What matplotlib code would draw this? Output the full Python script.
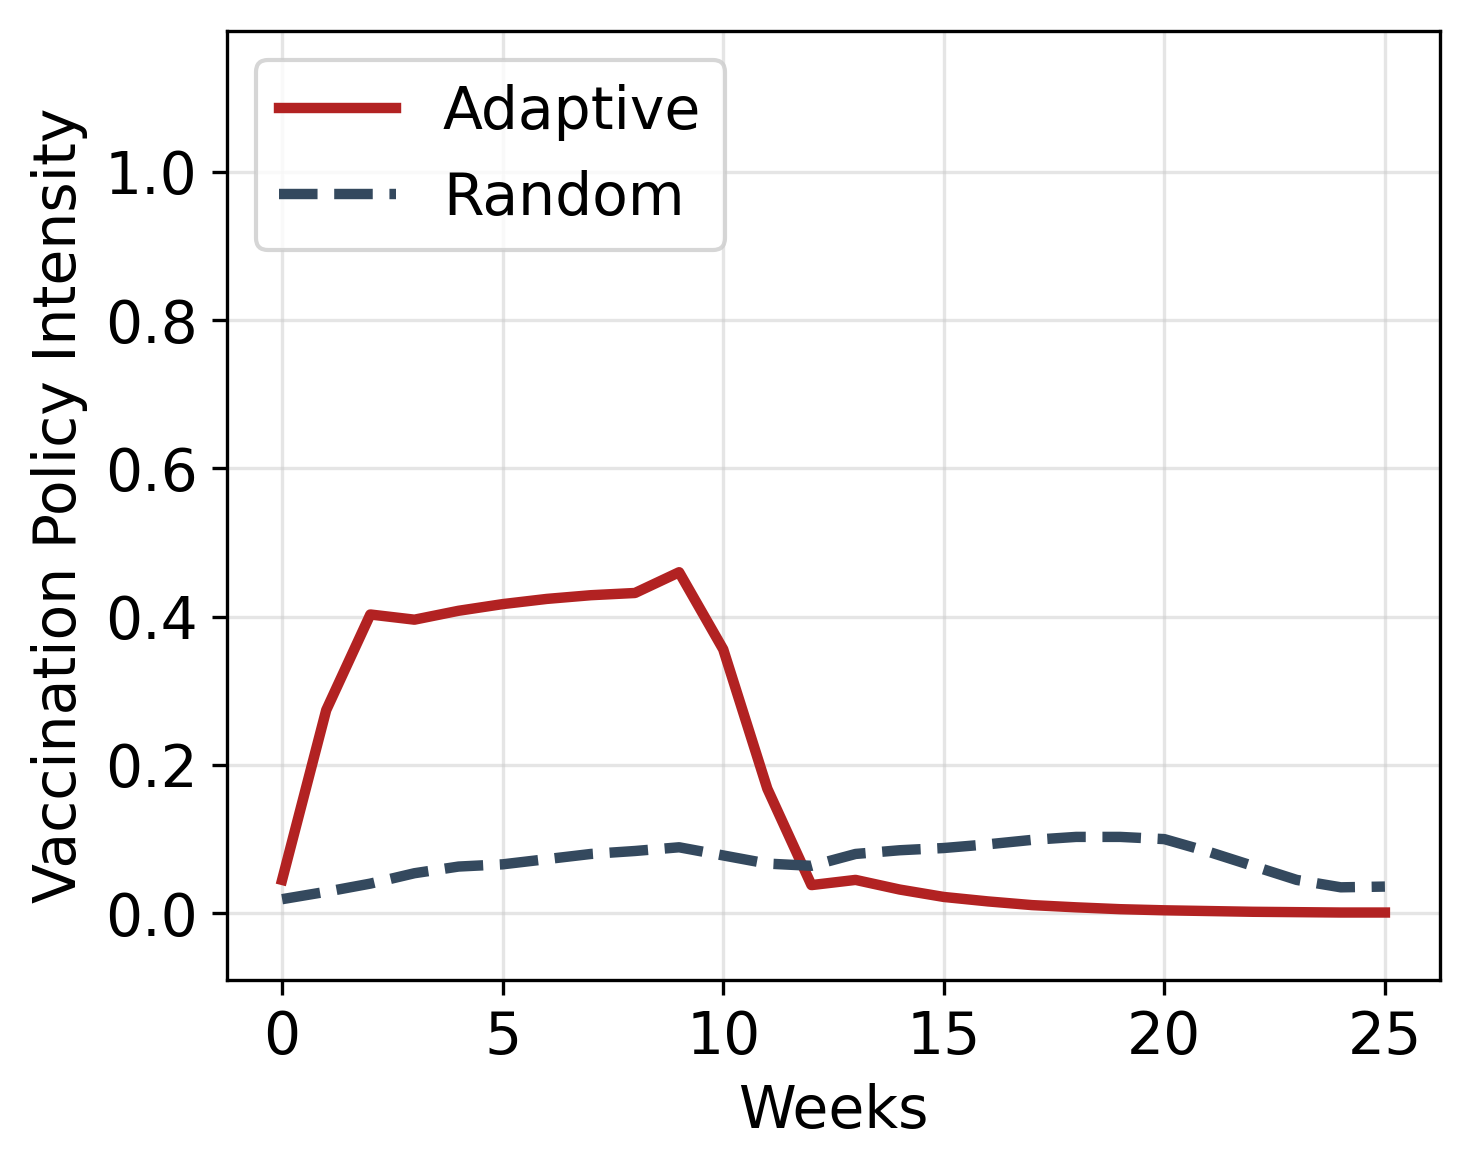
import matplotlib
matplotlib.use("Agg")
import matplotlib.pyplot as plt
import numpy as np

weeks = np.arange(0, 26)

adaptive = [0.045, 0.274, 0.403, 0.396, 0.408, 0.417, 0.424, 0.429, 0.432, 0.460,
            0.356, 0.168, 0.038, 0.045, 0.032, 0.022, 0.016, 0.011, 0.008, 0.0055,
            0.004, 0.003, 0.002, 0.0015, 0.001, 0.001]

random_policy = [0.019, 0.029, 0.040, 0.054, 0.063, 0.066, 0.073, 0.080, 0.084, 0.089,
                 0.078, 0.067, 0.064, 0.080, 0.085, 0.088, 0.093, 0.099, 0.103, 0.103,
                 0.100, 0.083, 0.064, 0.045, 0.035, 0.036]

fig, ax = plt.subplots(figsize=(1469 / 300, 1170 / 300), dpi=300)
fig.subplots_adjust(left=0.1545, right=0.9803, top=0.9735, bottom=0.1624)

ax.plot(weeks, adaptive, color='#b22222', linewidth=2.5, label='Adaptive')
ax.plot(weeks, random_policy, color='#34495e', linewidth=2.5, linestyle='--', label='Random')

ax.set_xlim(-1.25, 26.25)
ax.set_ylim(-0.09, 1.19)
ax.set_yticks([0.0, 0.2, 0.4, 0.6, 0.8, 1.0])
ax.set_xticks([0, 5, 10, 15, 20, 25])
ax.tick_params(labelsize=14)

ax.set_xlabel('Weeks', fontsize=14)
ax.set_ylabel('Vaccination Policy Intensity', fontsize=14)

ax.grid(True, color='#cccccc', alpha=0.5, linewidth=0.8)
ax.legend(loc='upper left', fontsize=14)

fig.savefig('out.png', dpi=300)
